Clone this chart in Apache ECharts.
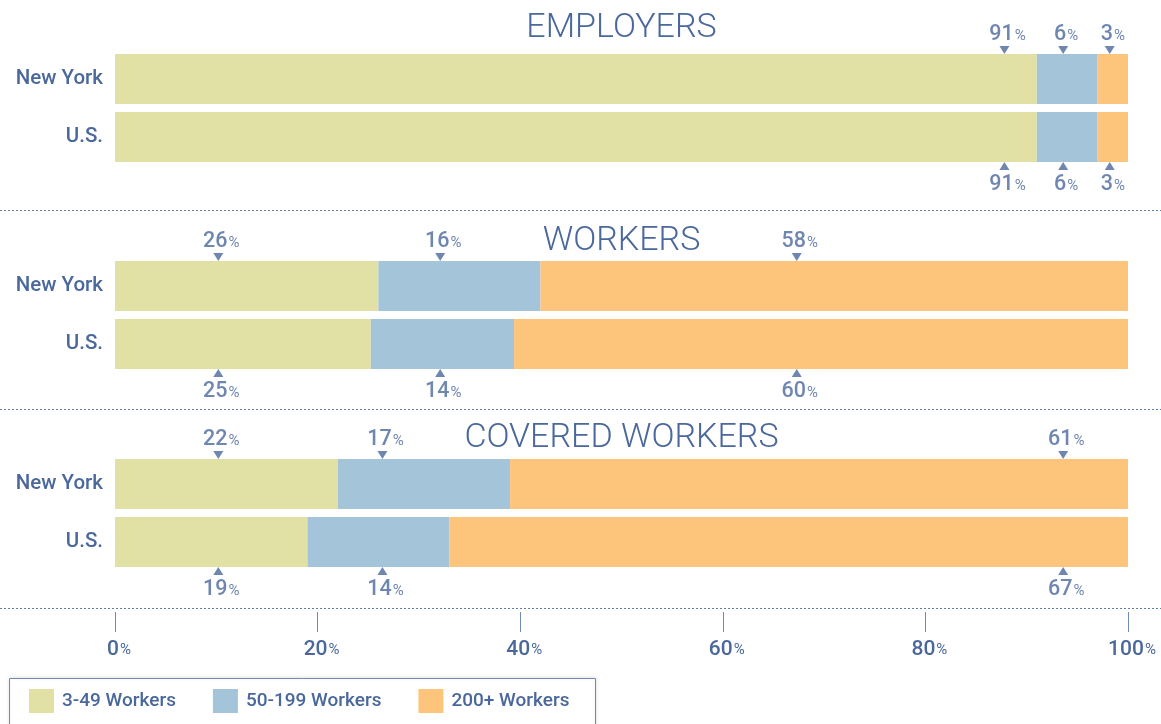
<!DOCTYPE html>
<html><head><meta charset="utf-8">
<script src="https://cdn.jsdelivr.net/npm/echarts@6/dist/echarts.min.js"></script>
<style>html,body{margin:0;padding:0;background:#fff}#c{width:1161px;height:724px}</style>
</head><body><div id="c"></div>
<script>
// ---- data ----
const panels = ['EMPLOYERS', 'WORKERS', 'COVERED WORKERS'];
const regions = ['New York', 'U.S.'];
const sizeClasses = ['3-49 Workers', '50-199 Workers', '200+ Workers'];
// shares per panel, [New York, U.S.]
const small = [[91, 91], [26, 25], [22, 19]];
const medium = [[6, 6], [16, 14], [17, 14]];
const large = [[3, 3], [58, 60], [61, 67]];
const axisTicks = [0, 20, 40, 60, 80, 100];
// point on the percent axis where each panel's callouts sit (per size class)
const labelAt = [[87.8, 93.6, 98.2], [10.2, 32.1, 67.3], [10.2, 26.4, 93.6]];

// ---- style ----
const colors = ['#e1e0a5', '#a4c4da', '#fdc57c'];
const ink = '#4a689c';
const FONT = 'Roboto, "DejaVu Sans", sans-serif';
const gridTops = [50, 257, 455];
const titleY = [28, 241, 438];

const chart = echarts.init(document.getElementById('c'), null, {renderer: 'canvas'});

const pctRich = (n, p) => ({
  n: {fontSize: n, fontWeight: 500, color: ink, fontFamily: FONT, verticalAlign: 'bottom'},
  p: {fontSize: p, fontWeight: 400, color: ink, fontFamily: FONT, verticalAlign: 'bottom', padding: [0, 0, 2, 1]}
});

const grid = [], xAxis = [], yAxis = [], series = [];
panels.forEach((name, p) => {
  grid.push({left: 115, right: 33, top: gridTops[p], height: 116});
  xAxis.push({gridIndex: p, type: 'value', min: 0, max: 100, show: false});
  yAxis.push({
    gridIndex: p, type: 'category', data: regions, inverse: true,
    axisLine: {show: false}, axisTick: {show: false}, splitLine: {show: false},
    axisLabel: {margin: 12, fontSize: 20.5, fontWeight: 500, color: ink, fontFamily: FONT}
  });
  const vals = [small[p], medium[p], large[p]];
  const totals = regions.map((_, r) => vals[0][r] + vals[1][r] + vals[2][r]);
  vals.forEach((v, k) => {
    series.push({
      type: 'bar', name: sizeClasses[k], xAxisIndex: p, yAxisIndex: p, stack: 's' + p,
      barWidth: 50, silent: true, itemStyle: {color: colors[k]},
      data: regions.map((_, r) => v[r] * 100 / totals[r])
    });
  });
  regions.forEach((reg, r) => {
    const up = r === 0;
    // triangles
    series.push({
      type: 'scatter', xAxisIndex: p, yAxisIndex: p, silent: true, z: 5,
      symbol: up ? 'path://M0,0 L10,0 L5,8 Z' : 'path://M5,0 L10,8 L0,8 Z',
      symbolSize: [10, 8], symbolOffset: [0, up ? -29 : 29],
      itemStyle: {color: ink},
      data: labelAt[p].map(x => [x, r])
    });
    // callout texts
    series.push({
      type: 'scatter', xAxisIndex: p, yAxisIndex: p, silent: true, z: 6,
      symbolSize: 1, itemStyle: {color: 'rgba(0,0,0,0)'},
      label: {
        show: true, position: 'inside', offset: [3, up ? -44 : 48],
        formatter: q => `{n|${q.data.pct}}{p|%}`,
        rich: pctRich(21.5, 15)
      },
      data: labelAt[p].map((x, k) => ({value: [x, r], pct: vals[k][r]}))
    });
  });
});

// bottom percent axis
grid.push({left: 115, right: 33, top: 611, height: 1});
xAxis.push({
  gridIndex: 3, type: 'value', min: 0, max: 100, interval: 20,
  axisLine: {show: false}, splitLine: {show: false},
  axisTick: {show: true, length: 20, lineStyle: {color: '#6f8ab5', width: 1}},
  axisLabel: {margin: 27, formatter: v => axisTicks.includes(v) ? `{n|${v}}{p|%}` : '', rich: pctRich(21, 15), padding: [0, 0, 0, 8]}
});
yAxis.push({gridIndex: 3, type: 'value', show: false});

const graphic = [];
panels.forEach((t, p) => {
  graphic.push({
    type: 'text', silent: true,
    x: 621.5, y: titleY[p],
    style: {text: t, x: 0, y: 0, textAlign: 'center', textVerticalAlign: 'middle',
      font: `300 34px ${FONT}`, fill: ink}
  });
});
[210.5, 409.5, 608.5].forEach(y => graphic.push({
  type: 'line', silent: true,
  shape: {x1: 0, y1: y, x2: 1161, y2: y},
  style: {stroke: '#5f7cab', lineWidth: 1, lineDash: [2, 2]}
}));
graphic.push({
  type: 'rect', silent: true, z: -1,
  shape: {x: 9.5, y: 678.5, width: 586, height: 60},
  style: {fill: '#fff', stroke: '#7189b3', lineWidth: 1, shadowBlur: 4, shadowColor: 'rgba(0,0,0,0.12)', shadowOffsetY: -1}
});

chart.setOption({
  animation: false,
  grid, xAxis, yAxis, series, graphic,
  legend: {
    data: sizeClasses, left: 29, top: 689, itemWidth: 25, itemHeight: 24, itemGap: 37,
    icon: 'rect', selectedMode: false, padding: 0,
    textStyle: {color: ink, fontSize: 19, fontWeight: 500, fontFamily: FONT, padding: [0, 0, 0, 3]}
  }
});
</script>
</body></html>
